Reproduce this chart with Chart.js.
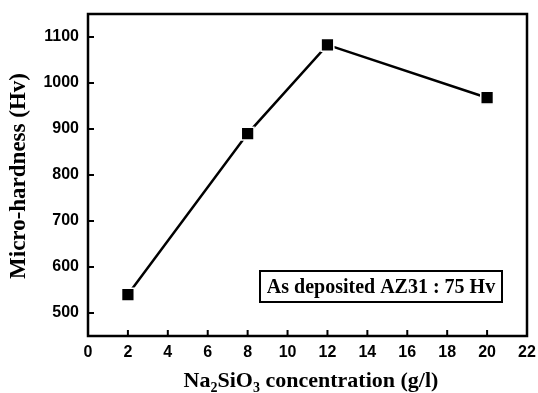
<!DOCTYPE html>
<html>
<head>
<meta charset="utf-8">
<script src="https://cdn.jsdelivr.net/npm/chart.js@4"></script>
<style>
  html, body { margin: 0; padding: 0; background: #fff; }
  #wrap { width: 538px; height: 393px; }
</style>
</head>
<body>
<div id="wrap"><canvas id="hardChart"></canvas></div>
<script>
// data
var concentration = [2, 8, 12, 20];
var hardness = [540, 890, 1083, 968];
var xTicks = [0, 2, 4, 6, 8, 10, 12, 14, 16, 18, 20, 22];
var yTicks = [500, 600, 700, 800, 900, 1000, 1100];
var noteText = 'As deposited AZ31 : 75 Hv';

var tickFont = { family: 'Liberation Sans', weight: 'bold', size: 16 };
var titleFont = 'bold 22px "Liberation Serif"';

// frame, inward ticks, axis titles and the note box
var framePlugin = {
    id: 'frame',
    afterDraw: function(chart) {
        const ctx = chart.ctx;
        const a = chart.chartArea;
        const xs = chart.scales.x;
        const ys = chart.scales.y;
        ctx.save();
        ctx.strokeStyle = '#000';
        ctx.lineWidth = 2.5;
        ctx.strokeRect(a.left, a.top, a.right - a.left, a.bottom - a.top);

        ctx.lineWidth = 2;
        ctx.beginPath();
        xTicks.forEach(function(v) {
            const px = xs.getPixelForValue(v);
            ctx.moveTo(px, a.bottom);
            ctx.lineTo(px, a.bottom - 6);
        });
        yTicks.forEach(function(v) {
            const py = ys.getPixelForValue(v);
            ctx.moveTo(a.left, py);
            ctx.lineTo(a.left + 6, py);
        });
        ctx.stroke();

        // y title
        ctx.fillStyle = '#000';
        ctx.font = 'bold 23px "Liberation Serif"';
        ctx.textAlign = 'center';
        ctx.textBaseline = 'middle';
        ctx.save();
        ctx.translate(19, 176);
        ctx.rotate(-Math.PI / 2);
        ctx.fillText('Micro-hardness (Hv)', 0, 0);
        ctx.restore();

        // x title with subscripts
        const parts = [['Na', 0], ['2', 1], ['SiO', 0], ['3', 1], [' concentration (g/l)', 0]];
        const subFont = 'bold 14px "Liberation Serif"';
        let total = 0;
        parts.forEach(function(p) {
            ctx.font = p[1] ? subFont : titleFont;
            total += ctx.measureText(p[0]).width;
        });
        let x = 311 - total / 2;
        const baseY = 387;
        ctx.textAlign = 'left';
        ctx.textBaseline = 'alphabetic';
        parts.forEach(function(p) {
            ctx.font = p[1] ? subFont : titleFont;
            ctx.fillText(p[0], x, p[1] ? baseY + 5 : baseY);
            x += ctx.measureText(p[0]).width;
        });

        // note box
        ctx.font = 'bold 20px "Liberation Serif"';
        const bx = 260, by = 271, bw = 242, bh = 31;
        ctx.lineWidth = 2;
        ctx.strokeRect(bx, by, bw, bh);
        ctx.textAlign = 'center';
        ctx.textBaseline = 'middle';
        ctx.fillText(noteText, bx + bw / 2, by + bh / 2 + 1);
        ctx.restore();
    }
};

const hardCtx = document.getElementById('hardChart').getContext('2d');
const hardChart = new Chart(hardCtx, {
    type: 'scatter',
    data: {
        datasets: [{
            label: 'Micro-hardness',
            data: concentration.map(function(c, i) { return { x: c, y: hardness[i] }; }),
            showLine: true,
            borderColor: '#000',
            borderWidth: 2.5,
            backgroundColor: '#000',
            pointStyle: 'rect',
            pointRadius: 9,
            pointBorderColor: '#fff',
            pointBorderWidth: 1.5,
            pointBackgroundColor: '#000'
        }]
    },
    options: {
        responsive: true,
        maintainAspectRatio: false,
        animation: false,
        layout: { padding: { left: 0, top: 14, right: 11, bottom: 0 } },
        plugins: {
            legend: { display: false },
            tooltip: { enabled: false }
        },
        scales: {
            x: {
                type: 'linear',
                min: 0,
                max: 22,
                afterBuildTicks: function(scale) {
                    scale.ticks = xTicks.map(function(v) { return { value: v }; });
                },
                afterFit: function(scale) {
                    scale.height = 57;
                    scale.paddingLeft = 0;
                    scale.paddingRight = 0;
                },
                grid: { display: false, drawTicks: false },
                border: { display: false },
                ticks: {
                    color: '#000', font: tickFont, padding: 7, maxRotation: 0,
                    callback: function(v) { return String(v); }
                }
            },
            y: {
                min: 450,
                max: 1150,
                afterBuildTicks: function(scale) {
                    scale.ticks = yTicks.map(function(v) { return { value: v }; });
                },
                afterFit: function(scale) {
                    scale.width = 88;
                    scale.paddingTop = 0;
                    scale.paddingBottom = 0;
                },
                grid: { display: false, drawTicks: false },
                border: { display: false },
                ticks: {
                    color: '#000', font: tickFont, padding: 9,
                    callback: function(v) { return String(v); }
                }
            }
        }
    },
    plugins: [framePlugin]
});
</script>
</body>
</html>
